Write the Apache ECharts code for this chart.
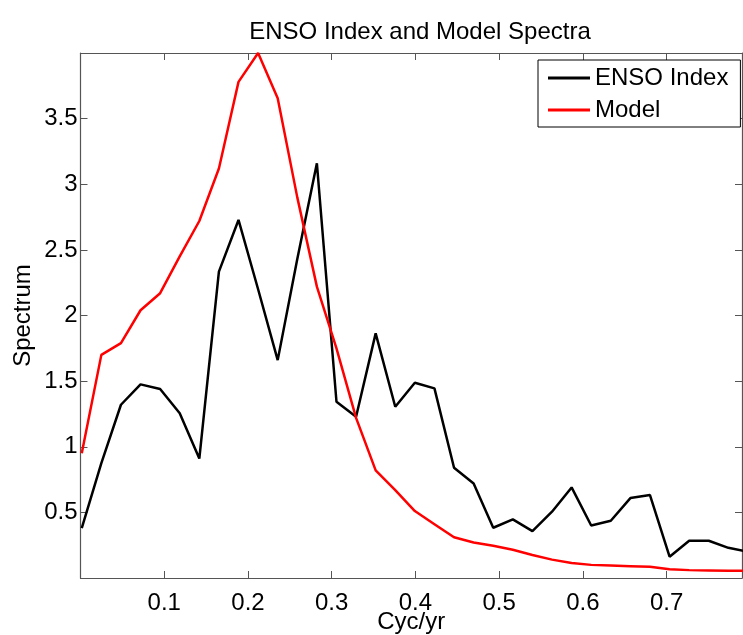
<!DOCTYPE html>
<html>
<head>
<meta charset="utf-8">
<script src="https://cdn.jsdelivr.net/npm/echarts@6/dist/echarts.min.js"></script>
<style>html,body{margin:0;padding:0;background:#fff}#c{width:743px;height:635px}</style>
</head>
<body>
<div id="c"></div>
<script>
// Frequencies (cycles per year)
var freq = [0.0015, 0.0249, 0.0483, 0.0717, 0.0951, 0.1185, 0.1419, 0.1653, 0.1887, 0.2121,
            0.2355, 0.2589, 0.2823, 0.3057, 0.3291, 0.3525, 0.3759, 0.3993, 0.4227, 0.4461,
            0.4695, 0.4929, 0.5163, 0.5397, 0.5631, 0.5865, 0.6099, 0.6333, 0.6567, 0.6801,
            0.7035, 0.7269, 0.7503, 0.7737, 0.7971];
// ENSO index spectrum
var ensoIndex = [0.38, 0.875, 1.32, 1.475, 1.44, 1.255, 0.91, 2.334, 2.728, 2.2,
                 1.66, 2.43, 3.16, 1.343, 1.229, 1.864, 1.305, 1.488, 1.445, 0.84,
                 0.72, 0.383, 0.447, 0.357, 0.505, 0.69, 0.40, 0.436, 0.609, 0.632,
                 0.162, 0.284, 0.284, 0.23, 0.2];
// Model spectrum
var model = [0.95, 1.70, 1.79, 2.04, 2.17, 2.45, 2.72, 3.12, 3.78, 4.0,
             3.655, 2.9, 2.22, 1.75, 1.22, 0.82, 0.67, 0.51, 0.41, 0.31,
             0.27, 0.245, 0.215, 0.175, 0.14, 0.115, 0.10, 0.095, 0.09, 0.085,
             0.066, 0.06, 0.058, 0.056, 0.055];
var seriesNames = ['ENSO Index', 'Model'];
var xTickLabels = ['0.1', '0.2', '0.3', '0.4', '0.5', '0.6', '0.7'];
var yTickLabels = ['0.5', '1', '1.5', '2', '2.5', '3', '3.5'];

function pairs(xs, ys) { return xs.map(function (x, i) { return [x, ys[i]]; }); }

var font = 'Liberation Sans, Arial, Helvetica, sans-serif';
var frame = '#555';
var fs = 24;
function frameAxisLine() { return {show: true, onZero: false, lineStyle: {color: frame, width: 1.2}}; }
function frameTick() { return {show: true, inside: true, length: 7, lineStyle: {color: frame}}; }
var chart = echarts.init(document.getElementById('c'), null, {renderer: 'canvas'});
chart.setOption({
  animation: false,
  backgroundColor: '#fff',
  textStyle: {fontFamily: font},
  title: {
    text: 'ENSO Index and Model Spectra',
    left: 415, top: 15, textAlign: 'center',
    textStyle: {fontFamily: font, fontSize: fs, fontWeight: 'normal', color: '#000'}
  },
  grid: {left: 80.5, right: 1, top: 53, bottom: 57, containLabel: false, outerBoundsMode: 'none'},
  legend: {
    data: seriesNames,
    orient: 'vertical',
    left: 538, top: 60,
    padding: [6, 12, 5, 10],
    itemGap: 8,
    itemWidth: 42, itemHeight: 3,
    icon: 'rect',
    backgroundColor: '#fff',
    borderColor: '#000', borderWidth: 1,
    textStyle: {fontFamily: font, fontSize: fs, color: '#000'}
  },
  xAxis: [{
    type: 'value', min: 0, max: 0.79, interval: 0.1,
    name: 'Cyc/yr', nameLocation: 'middle', nameGap: 32, nameMoveOverlap: false,
    nameTextStyle: {fontFamily: font, fontSize: fs, color: '#000'},
    axisLine: frameAxisLine(),
    axisTick: frameTick(),
    axisLabel: {fontFamily: font, fontSize: fs, color: '#000', margin: 13,
      formatter: function (v) { var s = (Math.round(v * 10) / 10).toString(); return xTickLabels.indexOf(s) >= 0 ? s : ''; }},
    splitLine: {show: false}
  }, {
    type: 'value', position: 'top', min: 0, max: 0.79, interval: 0.1,
    axisLine: frameAxisLine(),
    axisTick: frameTick(),
    axisLabel: {show: false}, splitLine: {show: false}
  }],
  yAxis: [{
    type: 'value', min: 0, max: 4, interval: 0.5,
    name: 'Spectrum', nameLocation: 'middle', nameGap: 45, nameMoveOverlap: false,
    nameTextStyle: {fontFamily: font, fontSize: fs, color: '#000'},
    axisLine: frameAxisLine(),
    axisTick: frameTick(),
    axisLabel: {fontFamily: font, fontSize: fs, color: '#000', margin: 3,
      formatter: function (v) { var s = (Math.round(v * 10) / 10).toString(); return yTickLabels.indexOf(s) >= 0 ? s : ''; }},
    splitLine: {show: false}
  }, {
    type: 'value', position: 'right', min: 0, max: 4, interval: 0.5,
    axisLine: frameAxisLine(),
    axisTick: frameTick(),
    axisLabel: {show: false}, splitLine: {show: false}
  }],
  series: [{
    name: seriesNames[0], type: 'line', symbol: 'none', clip: true,
    data: pairs(freq, ensoIndex),
    lineStyle: {color: '#000', width: 2.5}, itemStyle: {color: '#000'}
  }, {
    name: seriesNames[1], type: 'line', symbol: 'none', clip: true,
    data: pairs(freq, model),
    lineStyle: {color: '#ff0000', width: 2.5}, itemStyle: {color: '#ff0000'}
  }]
});
</script>
</body>
</html>
